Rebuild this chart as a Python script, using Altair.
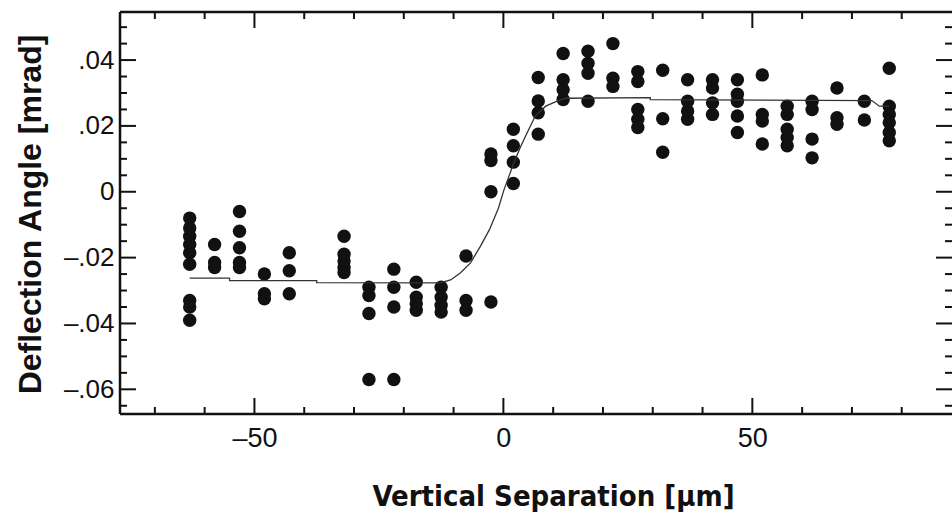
import altair as alt
import pandas as pd

# ---- data ----
col_x = [-63, -58, -53, -48, -43, -32, -27, -22, -17.5, -12.5, -7.5, -2.5,
         2, 7, 12, 17, 22, 27, 32, 37, 42, 47, 52, 57, 62, 67, 72.5, 77.5]
col_y = [
    [-0.008, -0.011, -0.0135, -0.016, -0.0185, -0.022, -0.033, -0.035, -0.039],
    [-0.016, -0.0215, -0.023],
    [-0.006, -0.012, -0.017, -0.0215, -0.023],
    [-0.025, -0.031, -0.0325],
    [-0.0185, -0.024, -0.031],
    [-0.0135, -0.019, -0.021, -0.023, -0.0245],
    [-0.029, -0.0315, -0.037, -0.057],
    [-0.0235, -0.029, -0.035, -0.057],
    [-0.0275, -0.032, -0.034, -0.036],
    [-0.029, -0.032, -0.0345, -0.0365],
    [-0.0195, -0.033, -0.036],
    [0.0115, 0.0095, 0.0, -0.0335],
    [0.019, 0.014, 0.009, 0.0025],
    [0.0347, 0.0276, 0.024, 0.0175],
    [0.042, 0.034, 0.031, 0.028],
    [0.0427, 0.039, 0.036, 0.0275],
    [0.045, 0.0345, 0.032],
    [0.0365, 0.0335, 0.025, 0.022, 0.0195],
    [0.0369, 0.0222, 0.012],
    [0.034, 0.0275, 0.0245, 0.022],
    [0.034, 0.0315, 0.027, 0.0235],
    [0.034, 0.0296, 0.0275, 0.023, 0.018],
    [0.0355, 0.0235, 0.0215, 0.0145],
    [0.026, 0.0235, 0.019, 0.0165, 0.014],
    [0.0275, 0.025, 0.016, 0.0103],
    [0.0315, 0.0225, 0.0205],
    [0.0275, 0.0218],
    [0.0375, 0.026, 0.0235, 0.021, 0.018, 0.0155],
]

fit_x = [-63, -55, -55, -37.5, -37.5, -12.7, -10.6, -8.6, -6.6, -4.6, -2.8, -1.0,
         0.1, 2.1, 3.5, 4.8, 6.4, 8.5, 10.8, 12.5, 29.5, 29.5, 74, 75.5, 77.5]
fit_y = [-0.0262, -0.0262, -0.027, -0.027, -0.0276, -0.0277, -0.0268, -0.0246,
         -0.0216, -0.0165, -0.0115, -0.005, 0.0005, 0.0088, 0.0138, 0.018, 0.023,
         0.026, 0.0275, 0.0284, 0.0286, 0.028, 0.0277, 0.026, 0.026]

x_major = [-50, 0, 50]
x_minor = [-70, -60, -40, -30, -20, -10, 10, 20, 30, 40, 60, 70, 80]
y_major = [-0.06, -0.04, -0.02, 0, 0.02, 0.04]
y_minor = [-0.065, -0.055, -0.05, -0.045, -0.035, -0.03, -0.025, -0.015, -0.01,
           -0.005, 0.005, 0.01, 0.015, 0.025, 0.03, 0.035, 0.045, 0.05]
x_domain = [-77, 90.1]
y_domain = [-0.0675, 0.0546]

# ---- tables ----
pts = pd.DataFrame(
    [{"x": cx, "y": v} for cx, ys in zip(col_x, col_y) for v in ys]
)
fit = pd.DataFrame({"x": fit_x, "y": fit_y, "i": range(len(fit_x))})
xmaj = pd.DataFrame({"x": x_major})
xmin = pd.DataFrame({"x": x_minor})
ymaj = pd.DataFrame({"y": y_major})
ymin = pd.DataFrame({"y": y_minor})
one = pd.DataFrame({"k": [0]})

W, H = 832, 402
INK = "#111111"
xs = alt.Scale(domain=x_domain, nice=False, zero=False)
ys_ = alt.Scale(domain=y_domain, nice=False, zero=False)

x_axis = alt.Axis(
    values=x_major, ticks=False, tickSize=0, domain=False, grid=False,
    labelExpr="(datum.value < 0 ? '\u2013' : '') + format(abs(datum.value), 'd')",
    labelFont="Liberation Sans", labelFontSize=27, labelPadding=11, labelColor=INK,
    title="Vertical Separation [µm]",
    titleFont="DejaVu Sans Condensed, DejaVu Sans", titleFontSize=29,
    titleFontWeight="bold", titleColor=INK, titleX=433, titleY=91,
    titleAlign="center", titleBaseline="alphabetic",
)
y_axis = alt.Axis(
    values=y_major, ticks=False, tickSize=0, domain=False, grid=False,
    labelExpr="datum.value == 0 ? '0' : (datum.value < 0 ? '\u2013' : '') + "
              "replace(format(abs(datum.value), '.2f'), '0.', '.')",
    labelFont="Liberation Sans", labelFontSize=26, labelPadding=6, labelColor=INK,
    title="Deflection Angle [mrad]",
    titleFont="Liberation Sans", titleFontSize=32,
    titleFontWeight="bold", titleColor=INK, titleAngle=270, titleX=-80, titleY=202,
    titleAlign="center", titleBaseline="alphabetic",
)

X = lambda: alt.X("x:Q", scale=xs, axis=x_axis, title="Vertical Separation [µm]")
Y = lambda: alt.Y("y:Q", scale=ys_, axis=y_axis, title="Deflection Angle [mrad]")

points = alt.Chart(pts).mark_circle(size=180, color=INK, opacity=1).encode(
    x=X(), y=Y())

curve = alt.Chart(fit).mark_line(color="#333333", strokeWidth=1.3).encode(
    x=X(), y=Y(), order=alt.Order("i:Q"))

def xticks(df, length, sw):
    bot = alt.Chart(df).mark_rule(color=INK, strokeWidth=sw).encode(
        x=X(), y=alt.value(H), y2=alt.value(H - length))
    top = alt.Chart(df).mark_rule(color=INK, strokeWidth=sw).encode(
        x=X(), y=alt.value(0), y2=alt.value(length))
    return [bot, top]

def yticks(df, length, sw):
    left = alt.Chart(df).mark_rule(color=INK, strokeWidth=sw).encode(
        y=Y(), x=alt.value(0), x2=alt.value(length))
    right = alt.Chart(df).mark_rule(color=INK, strokeWidth=sw).encode(
        y=Y(), x=alt.value(W), x2=alt.value(W - length))
    return [left, right]

frame = [
    alt.Chart(one).mark_rule(color=INK, strokeWidth=2.5).encode(
        x=alt.value(0), x2=alt.value(W), y=alt.value(0)),
    alt.Chart(one).mark_rule(color=INK, strokeWidth=2.5).encode(
        x=alt.value(0), x2=alt.value(W), y=alt.value(H)),
    alt.Chart(one).mark_rule(color=INK, strokeWidth=2.5).encode(
        x=alt.value(0), y=alt.value(0), y2=alt.value(H)),
]

layers = (
    [points, curve]
    + xticks(xmaj, 16, 2) + xticks(xmin, 7, 2)
    + yticks(ymaj, 16, 2) + yticks(ymin, 7, 2)
    + frame
)

chart = alt.layer(*layers).properties(
    width=W, height=H,
    autosize=alt.AutoSizeParams(type="none"),
    padding={"left": 120, "top": 12, "right": 0, "bottom": 107},
    background="white",
).configure_view(stroke=None)

chart.save("out.html", embed_options={"renderer": "svg", "actions": False})
